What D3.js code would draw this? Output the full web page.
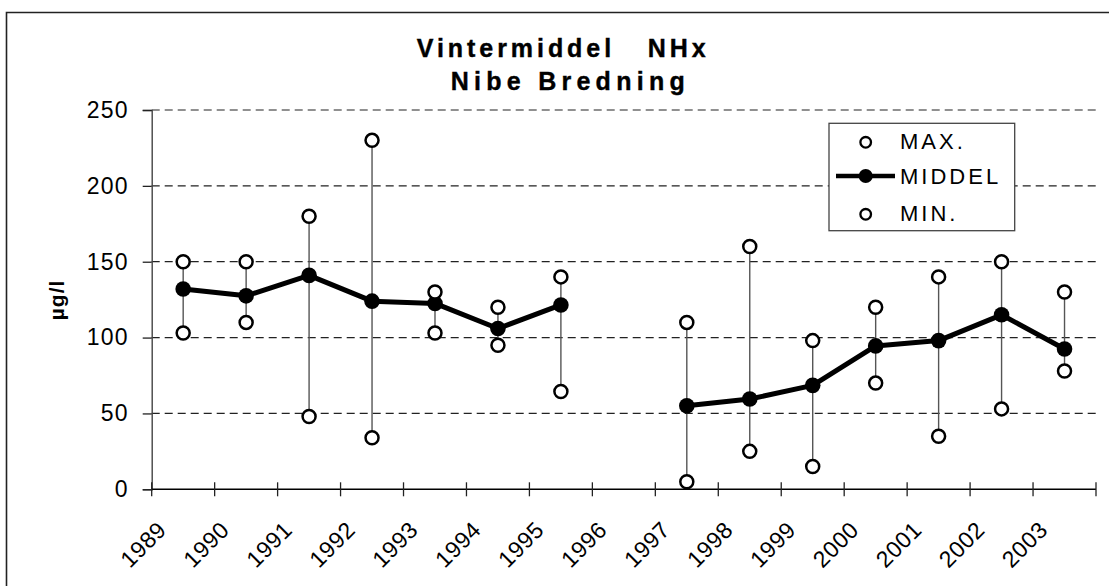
<!DOCTYPE html>
<html lang="da">
<head>
    <meta charset="UTF-8">
    <title>Vintermiddel NHx</title>
    <script src="https://d3js.org/d3.v7.min.js"></script>
    <style>
        body { margin: 0; background: #fff; overflow: hidden; }
        svg { display: block; }
        text { font-family: Arial, "Liberation Sans", sans-serif; }
    </style>
</head>
<body>
<svg id="chart"></svg>

<script>
    // data
    var years = ["1989", "1990", "1991", "1992", "1993", "1994", "1995", "1996",
                 "1997", "1998", "1999", "2000", "2001", "2002", "2003"];
    var maxVals  = [150, 150, 180, 230, 130, 120, 140, null, 110, 160, 98, 120, 140, 150, 130];
    var meanVals = [132, 127.5, 141, 124, 122.5, 106, 121.5, null, 55, 59.5, 68.5, 94.5, 98, 115, 92.5];
    var minVals  = [103, 110, 48, 34, 103, 95, 64.5, null, 5, 25, 15, 70, 35, 53, 78];
    var yTicks = [0, 50, 100, 150, 200, 250];

    (function() {
        var width = 1109;
        var height = 586;
        var left = 151.7, right = 1096, top = 110, bottom = 489.3;

        var svg = d3.select("#chart")
            .attr("width", width)
            .attr("height", height);

        // frame: only the top and left edges are in the picture
        svg.append("path")
            .attr("d", "M6.5," + height + "V12.5H" + width)
            .attr("fill", "none")
            .attr("stroke", "#222")
            .attr("stroke-width", 1.6);

        var x = d3.scaleBand().domain(years).range([left, right]);
        var y = d3.scaleLinear().domain([0, 250]).range([bottom, top]);

        // title
        svg.append("text")
            .attr("x", 416.7).attr("y", 57)
            .attr("textLength", 289).attr("lengthAdjust", "spacing")
            .style("white-space", "pre")
            .attr("font-size", 25).attr("font-weight", "bold")
            .attr("stroke", "#000").attr("stroke-width", 0.4)
            .text("Vintermiddel   NHx");
        svg.append("text")
            .attr("x", 450.7).attr("y", 90)
            .attr("textLength", 234).attr("lengthAdjust", "spacing")
            .attr("font-size", 25).attr("font-weight", "bold")
            .attr("stroke", "#000").attr("stroke-width", 0.4)
            .text("Nibe Bredning");

        // dashed grid
        svg.append("g")
            .selectAll("line")
            .data(yTicks.filter(function(d) { return d > 0; }))
            .enter()
            .append("line")
            .attr("x1", left).attr("x2", right)
            .attr("y1", function(d) { return y(d); })
            .attr("y2", function(d) { return y(d); })
            .attr("stroke", "#222")
            .attr("stroke-width", 1.2)
            .attr("stroke-dasharray", "8,5");

        // y axis
        var yAxis = svg.append("g")
            .attr("transform", "translate(" + left + ",0)")
            .call(d3.axisLeft(y).tickValues(yTicks).tickSize(9).tickPadding(14));
        yAxis.select(".domain").attr("stroke", "#444").attr("stroke-width", 1.4);
        yAxis.selectAll(".tick line").attr("stroke", "#222").attr("stroke-width", 1.3);
        yAxis.selectAll("text")
            .attr("font-size", 23)
            .attr("letter-spacing", 1.2)
            .attr("fill", "#000")
            .attr("font-family", "Arial, 'Liberation Sans', sans-serif");

        // x axis: ticks at category boundaries, crossing the axis
        var bounds = years.map(function(d) { return x(d); }).concat([right]);
        svg.append("line")
            .attr("x1", left).attr("x2", right)
            .attr("y1", bottom).attr("y2", bottom)
            .attr("stroke", "#000").attr("stroke-width", 1.4);
        svg.append("g")
            .selectAll("line")
            .data(bounds)
            .enter()
            .append("line")
            .attr("x1", function(d) { return d; })
            .attr("x2", function(d) { return d; })
            .attr("y1", bottom - 7).attr("y2", bottom + 7)
            .attr("stroke", "#222").attr("stroke-width", 1.3);
        svg.append("g")
            .selectAll("text")
            .data(years)
            .enter()
            .append("text")
            .attr("transform", function(d) {
                return "translate(" + (x(d) + 16) + "," + (bottom + 42) + ")rotate(-45)";
            })
            .attr("text-anchor", "end")
            .attr("font-size", 23)
            .attr("letter-spacing", 0.5)
            .text(function(d) { return d; });

        // y axis title
        svg.append("text")
            .attr("transform", "translate(64,300)rotate(-90)")
            .attr("text-anchor", "middle")
            .attr("font-size", 21)
            .attr("font-weight", "bold")
            .attr("letter-spacing", 1)
            .text("µg/l");

        var cx = function(i) { return x(years[i]) + x.bandwidth() / 2; };
        var idx = d3.range(years.length).filter(function(i) { return maxVals[i] !== null; });

        // whiskers min-max
        svg.append("g")
            .selectAll("line")
            .data(idx)
            .enter()
            .append("line")
            .attr("x1", cx).attr("x2", cx)
            .attr("y1", function(i) { return y(minVals[i]); })
            .attr("y2", function(i) { return y(maxVals[i]); })
            .attr("stroke", "#555")
            .attr("stroke-width", 1.4);

        // middel line (broken where no data)
        var line = d3.line()
            .defined(function(i) { return meanVals[i] !== null; })
            .x(cx)
            .y(function(i) { return y(meanVals[i]); });
        svg.append("path")
            .attr("d", line(d3.range(years.length)))
            .attr("fill", "none")
            .attr("stroke", "#000")
            .attr("stroke-width", 5)
            .attr("stroke-linejoin", "round");

        svg.append("g")
            .selectAll("circle")
            .data(idx)
            .enter()
            .append("circle")
            .attr("cx", cx)
            .attr("cy", function(i) { return y(meanVals[i]); })
            .attr("r", 7.8)
            .attr("fill", "#000");

        // max / min markers
        [maxVals, minVals].forEach(function(vals) {
            svg.append("g")
                .selectAll("circle")
                .data(idx)
                .enter()
                .append("circle")
                .attr("cx", cx)
                .attr("cy", function(i) { return y(vals[i]); })
                .attr("r", 6.5)
                .attr("fill", "#fff")
                .attr("stroke", "#000")
                .attr("stroke-width", 2.5);
        });

        // legend
        var lg = svg.append("g");
        lg.append("rect")
            .attr("x", 829).attr("y", 123.3)
            .attr("width", 185.7).attr("height", 107.4)
            .attr("fill", "#fff")
            .attr("stroke", "#444")
            .attr("stroke-width", 1.3);
        lg.append("circle")
            .attr("cx", 865.7).attr("cy", 142.3).attr("r", 5.3)
            .attr("fill", "#fff").attr("stroke", "#000").attr("stroke-width", 2.3);
        lg.append("line")
            .attr("x1", 836).attr("x2", 895).attr("y1", 176).attr("y2", 176)
            .attr("stroke", "#000").attr("stroke-width", 4.5);
        lg.append("circle")
            .attr("cx", 865.7).attr("cy", 176).attr("r", 7)
            .attr("fill", "#000");
        lg.append("circle")
            .attr("cx", 865.7).attr("cy", 214.3).attr("r", 5.3)
            .attr("fill", "#fff").attr("stroke", "#000").attr("stroke-width", 2.3);
        lg.selectAll("text")
            .data([["MAX.", 141.3], ["MIDDEL", 176.2], ["MIN.", 213]])
            .enter()
            .append("text")
            .attr("x", 900)
            .attr("y", function(d) { return d[1]; })
            .attr("dy", "0.36em")
            .attr("font-size", 22)
            .attr("letter-spacing", 3)
            .text(function(d) { return d[0]; });
    })();
</script>
</body>
</html>
